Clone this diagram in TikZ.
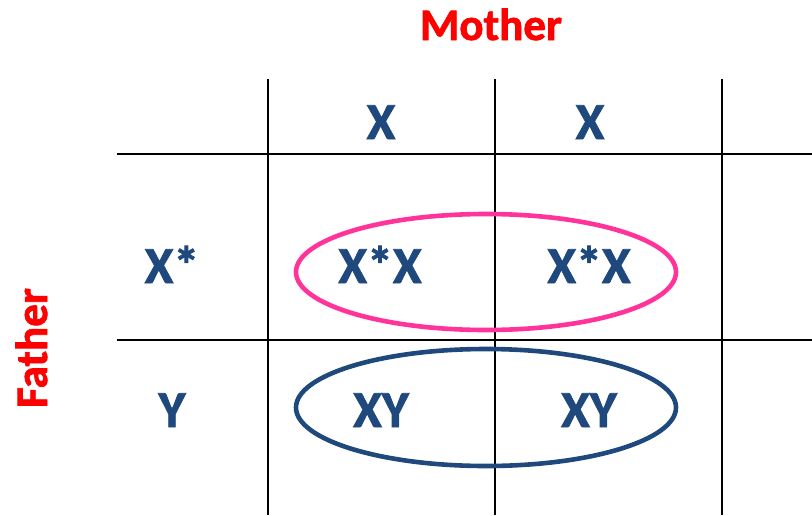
\documentclass[tikz,border=0pt]{standalone}
\usepackage{fontspec}
\setmainfont{Carlito}[BoldFeatures={FakeBold=1.6}]
\definecolor{allelblue}{HTML}{1F497D}
\definecolor{carrierpink}{HTML}{FF3399}

\begin{document}
\begin{tikzpicture}[
  x=1pt, y=-1pt,
  parent/.style={font=\fontsize{45}{45}\selectfont\bfseries, text=red, inner sep=0pt, anchor=base},
  allele/.style={font=\fontsize{52}{52}\selectfont\bfseries, text=allelblue, inner sep=0pt, anchor=base},
  gridline/.style={line width=2.3pt, draw=black},
  ring/.style={line width=4.6pt}
]
\useasboundingbox (0,0) rectangle (812,515);
% grid
\draw[gridline] (268,79) -- (268,515);
\draw[gridline] (495,79) -- (495,515);
\draw[gridline] (722,79) -- (722,515);
\draw[gridline] (117,154) -- (812,154);
\draw[gridline] (117,340) -- (812,340);
% parents
\node[parent] (mother) at (491,40) {Mother};
\node[parent, rotate=90] (father) at (47,348) {Father};
% gametes
\node[allele] (m1) at (381,139) {X};
\node[allele] (m2) at (590,139) {X};
\node[allele] (f1) at (172,283) {X*};
\node[allele] (f2) at (172,427) {Y};
% offspring
\node[allele] (d1) at (380,283) {X*X};
\node[allele] (d2) at (589,283) {X*X};
\node[allele] (s1) at (381,427) {XY};
\node[allele] (s2) at (589,427) {XY};
% groupings
\draw[ring, draw=carrierpink] (486,272) ellipse [x radius=190, y radius=58];
\draw[ring, draw=allelblue] (486,407.5) ellipse [x radius=190, y radius=58.5];
\end{tikzpicture}
\end{document}
